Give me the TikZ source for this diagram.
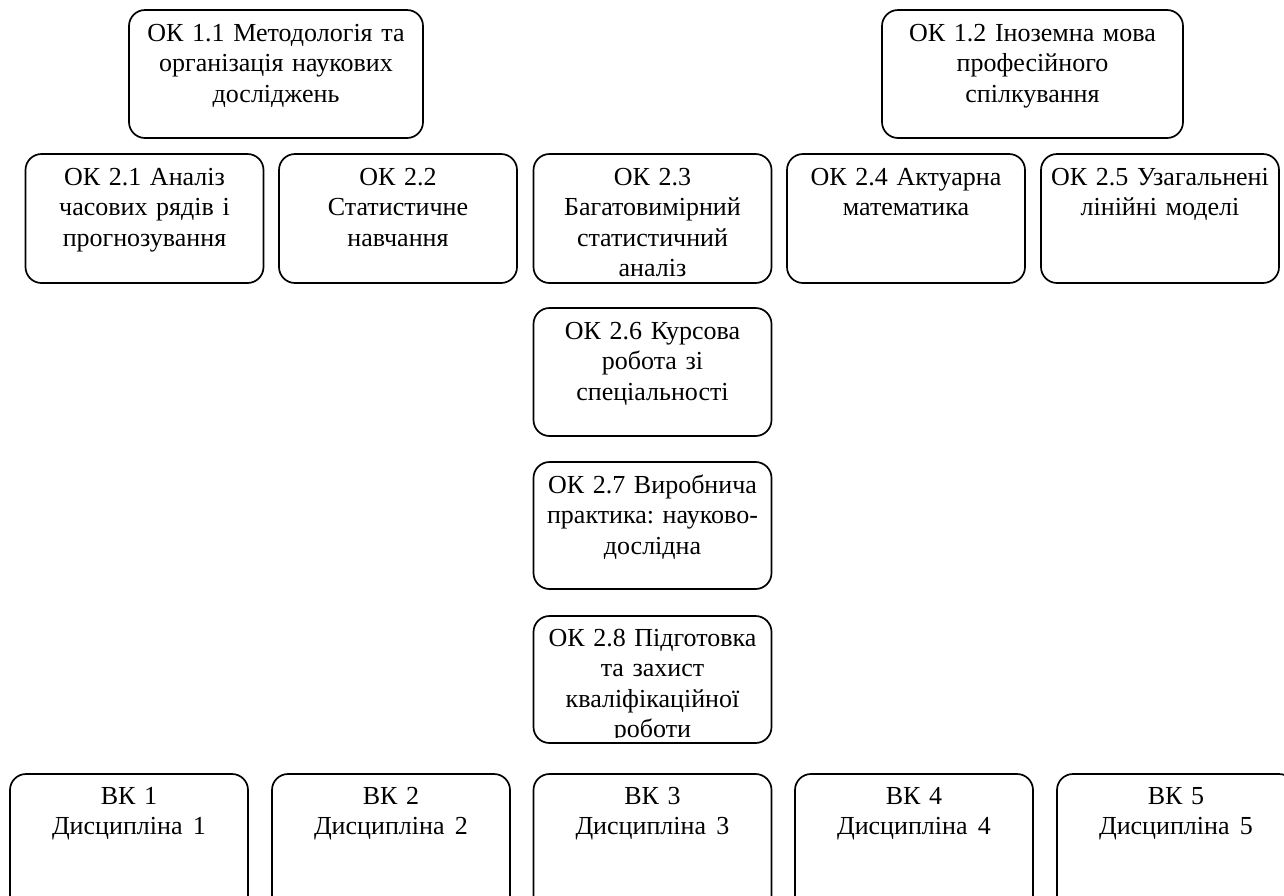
\documentclass[tikz,border=0pt]{standalone}
\usepackage{fontspec}
\setmainfont{Liberation Serif}
\frenchspacing
\begin{document}
\begin{tikzpicture}[x=1pt,y=-1pt,
  box/.style={draw=black, line width=1.7pt, rounded corners=16pt, inner sep=0pt},
  txt/.style={font=\fontsize{26}{30.5}\selectfont\frenchspacing, align=center, text width=300pt, inner sep=0pt, anchor=base}]
\useasboundingbox (0,0) rectangle (1284,895);
\clip (0,0) rectangle (1284,895);
% top row
\node[box, minimum width=294pt, minimum height=128pt] (b11) at (276,74) {};
\node[txt] (t11) at ([yshift=-32pt]b11.north) {ОК 1.1 Методологія та\\організація наукових\\досліджень};
\node[box, minimum width=301pt, minimum height=128pt] (b12) at (1032.5,74) {};
\node[txt] (t12) at ([yshift=-32pt]b12.north) {ОК 1.2 Іноземна мова\\професійного\\спілкування};
% second row
\node[box, minimum width=238pt, minimum height=129pt] (b21) at (144.5,218.5) {};
\node[txt] (t21) at ([yshift=-32pt]b21.north) {ОК 2.1 Аналіз\\часових рядів і\\прогнозування};
\node[box, minimum width=238pt, minimum height=129pt] (b22) at (398,218.5) {};
\node[txt] (t22) at ([yshift=-32pt]b22.north) {ОК 2.2\\Статистичне\\навчання};
\node[box, minimum width=238pt, minimum height=129pt] (b23) at (652.5,218.5) {};
\node[txt] (t23) at ([yshift=-32pt]b23.north) {ОК 2.3\\Багатовимірний\\статистичний\\аналіз};
\node[box, minimum width=238pt, minimum height=129pt] (b24) at (906,218.5) {};
\node[txt] (t24) at ([yshift=-32pt]b24.north) {ОК 2.4 Актуарна\\математика};
\node[box, minimum width=238pt, minimum height=129pt] (b25) at (1160,218.5) {};
\node[txt] (t25) at ([yshift=-32pt]b25.north) {ОК 2.5 Узагальнені\\лінійні моделі};
% centre column
\node[box, minimum width=238pt, minimum height=128pt] (b26) at (652.5,372) {};
\node[txt] (t26) at ([yshift=-32pt]b26.north) {ОК 2.6 Курсова\\робота зі\\спеціальності};
\node[box, minimum width=238pt, minimum height=127pt] (b27) at (652.5,525.5) {};
\node[txt] (t27) at ([yshift=-32pt]b27.north) {ОК 2.7 Виробнича\\практика: науково-\\дослідна};
\node[box, minimum width=238pt, minimum height=127pt] (b28) at (652.5,679.5) {};
\begin{scope}
\clip (533,616) rectangle (771,737);
\node[txt] (t28) at ([yshift=-31pt]b28.north) {ОК 2.8 Підготовка\\та захист\\кваліфікаційної\\роботи};
\end{scope}
% elective row
\node[box, minimum width=238pt, minimum height=160pt] (v1) at (129,854) {};
\node[txt] (tv1) at ([yshift=-31pt]v1.north) {ВК 1\\Дисципліна\hspace{0.4em}1};
\node[box, minimum width=238pt, minimum height=160pt] (v2) at (391,854) {};
\node[txt] (tv2) at ([yshift=-31pt]v2.north) {ВК 2\\Дисципліна\hspace{0.4em}2};
\node[box, minimum width=238pt, minimum height=160pt] (v3) at (652.5,854) {};
\node[txt] (tv3) at ([yshift=-31pt]v3.north) {ВК 3\\Дисципліна\hspace{0.4em}3};
\node[box, minimum width=238pt, minimum height=160pt] (v4) at (914,854) {};
\node[txt] (tv4) at ([yshift=-31pt]v4.north) {ВК 4\\Дисципліна\hspace{0.4em}4};
\node[box, minimum width=238pt, minimum height=160pt] (v5) at (1176,854) {};
\node[txt] (tv5) at ([yshift=-31pt]v5.north) {ВК 5\\Дисципліна\hspace{0.4em}5};
\end{tikzpicture}
\end{document}
